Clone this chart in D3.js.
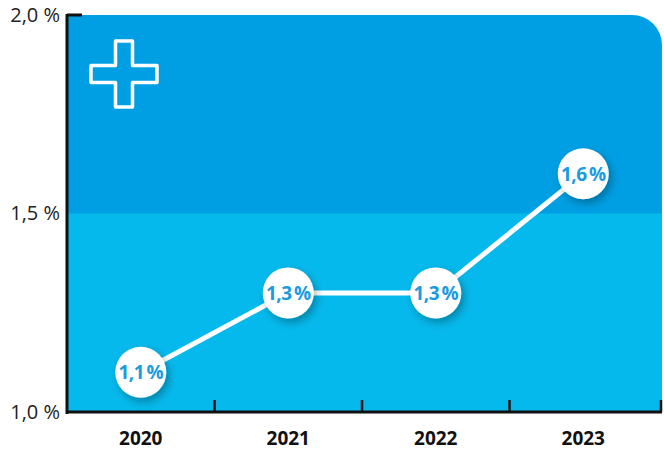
<!DOCTYPE html>
<html><head><meta charset="utf-8">
<script src="https://cdn.jsdelivr.net/npm/d3@7"></script>
<style>body{margin:0;background:#fff;}svg{display:block;}</style>
</head><body>
<script>
const years = ["2020","2021","2022","2023"];
const rates = [1.1, 1.3, 1.3, 1.6];
const yTicks = [1.0, 1.5, 2.0];

(function(){
const W = 664, H = 452;
const L = 67, R = 662, T = 15, B = 412;
const svg = d3.select("body").append("svg").attr("width", W).attr("height", H);
const defs = svg.append("defs");
const f = defs.append("filter").attr("id","sh").attr("x","-50%").attr("y","-50%").attr("width","200%").attr("height","200%");
f.append("feDropShadow").attr("dx",3).attr("dy",4).attr("stdDeviation",4).attr("flood-color","#000").attr("flood-opacity",0.3);

const x = d3.scaleBand().domain(years).range([L, R - 5]);
const y = d3.scaleLinear().domain([1.0, 2.0]).range([B, T]);
const fmt = v => d3.format(".1f")(v).replace(".", ",");

// background bands
const rr = 30;
const yTop = y(2.0), yMid = y(1.5);
svg.append("path").attr("fill","#009fe3")
  .attr("d", `M${L},${yTop} H${R-rr} A${rr},${rr} 0 0 1 ${R},${yTop+rr} V${yMid+1} H${L} Z`);
svg.append("rect").attr("x",L).attr("y",yMid).attr("width",R-L).attr("height",B-yMid).attr("fill","#06b9ec");

// plus icon
const cx = 124, cy = 74, a = 33, h = 8.5;
const plus = `M${cx-h},${cy-a} H${cx+h} V${cy-h} H${cx+a} V${cy+h} H${cx+h} V${cy+a} H${cx-h} V${cy+h} H${cx-a} V${cy-h} H${cx-h} Z`;
svg.append("path").attr("d", plus).attr("fill","none").attr("stroke","#fff").attr("stroke-width",3.5).attr("stroke-linejoin","round");

// axes
const yAxis = svg.append("g").attr("transform",`translate(${L},0)`)
  .call(d3.axisLeft(y).tickValues(yTicks).tickSize(0).tickPadding(7).tickFormat(d => fmt(d) + " %"));
yAxis.select(".domain").remove();
yAxis.selectAll("text").attr("font-family","'Open Sans', sans-serif").attr("font-size",20).attr("fill","#222").attr("dy","0.3em");
svg.append("line").attr("x1",L).attr("x2",L).attr("y1",T-1).attr("y2",B+2).attr("stroke","#111").attr("stroke-width",3);
svg.append("line").attr("x1",L).attr("x2",L+15).attr("y1",T).attr("y2",T).attr("stroke","#111").attr("stroke-width",3);

const xAxis = svg.append("g").attr("transform",`translate(0,${B})`)
  .call(d3.axisBottom(x).tickSize(0).tickPadding(20));
xAxis.select(".domain").remove();
xAxis.selectAll("text").attr("font-family","'Open Sans', sans-serif").attr("font-weight","bold").attr("font-size",19).attr("fill","#111");
svg.append("line").attr("x1",L).attr("x2",R).attr("y1",B).attr("y2",B).attr("stroke","#111").attr("stroke-width",3);
const sep = years.map(d => x(d) + x.bandwidth());
sep[sep.length-1] = R - 1;
svg.selectAll(".sep").data(sep).enter().append("line")
  .attr("x1",d=>d).attr("x2",d=>d).attr("y1",B).attr("y2",B-12).attr("stroke","#111").attr("stroke-width",2.5);

// line
const pts = years.map((d,i)=>[x(d)+x.bandwidth()/2, y(rates[i])]);
svg.append("path").attr("d", d3.line()(pts)).attr("fill","none").attr("stroke","#fff").attr("stroke-width",5);

const g = svg.selectAll(".pt").data(years).enter().append("g")
  .attr("transform",(d,i)=>`translate(${x(d)+x.bandwidth()/2},${y(rates[i])})`);
g.append("circle").attr("r",25.5).attr("fill","#fff").attr("filter","url(#sh)");
g.append("text").text((d,i)=>fmt(rates[i]) + "\u2009%").attr("text-anchor","middle").attr("dy","0.36em")
  .attr("font-family","'Open Sans', sans-serif").attr("font-weight","bold").attr("font-size",19)
  .attr("letter-spacing",-0.6).attr("fill","#1a9be0");
})();
</script>
</body></html>
